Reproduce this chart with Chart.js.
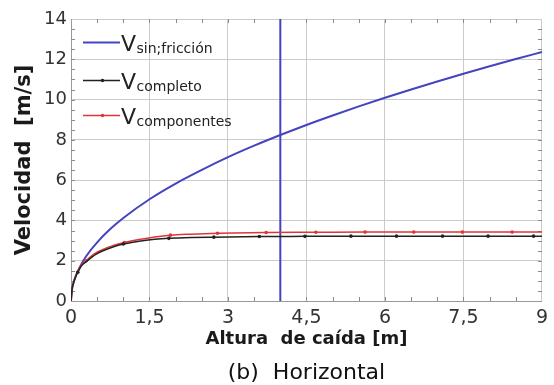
<!DOCTYPE html>
<html>
<head>
<meta charset="utf-8">
<script src="https://cdn.jsdelivr.net/npm/chart.js@4/dist/chart.umd.min.js"></script>
<style>
  html, body { margin: 0; padding: 0; background: #ffffff; }
  #wrap { position: relative; width: 554px; height: 385px; }
</style>
</head>
<body>
<div id="wrap"><canvas id="c" width="554" height="385"></canvas></div>
<script>
// Fall height [m] and velocity [m/s] for the three models
const sinFriccionX = [0, 0.02, 0.05, 0.1, 0.2, 0.3, 0.5, 0.75, 1, 1.5, 2, 2.5, 3, 3.5, 4, 4.5, 5, 5.5, 6, 6.5, 7, 7.5, 8, 8.5, 9];
const sinFriccionY = [0, 0.58, 0.92, 1.30, 1.84, 2.26, 2.91, 3.57, 4.12, 5.05, 5.83, 6.51, 7.14, 7.71, 8.24, 8.74, 9.21, 9.66, 10.09, 10.50, 10.90, 11.28, 11.65, 12.01, 12.36];

const completoX = [0, 0.02, 0.05, 0.1, 0.13, 0.2, 0.3, 0.4, 0.5, 0.6, 0.8, 1.0, 1.3, 1.6, 1.87, 2.3, 2.73, 3.6, 4.47, 5.35, 6.22, 7.1, 7.97, 8.84, 9];
const completoY = [0, 0.58, 0.92, 1.28, 1.43, 1.75, 1.97, 2.18, 2.35, 2.48, 2.68, 2.83, 2.97, 3.06, 3.11, 3.15, 3.17, 3.20, 3.21, 3.22, 3.22, 3.22, 3.22, 3.22, 3.22];
const completoMarkX = [0.13, 1.0, 1.87, 2.73, 3.6, 4.47, 5.35, 6.22, 7.1, 7.97, 8.84];
const completoMarkY = [1.43, 2.83, 3.11, 3.17, 3.20, 3.21, 3.22, 3.22, 3.22, 3.22, 3.22];

const componentesX = [0, 0.02, 0.05, 0.1, 0.15, 0.2, 0.29, 0.4, 0.5, 0.6, 0.8, 1.02, 1.3, 1.6, 1.9, 2.3, 2.8, 3.73, 4.68, 5.62, 6.55, 7.48, 8.43, 9];
const componentesY = [0, 0.58, 0.92, 1.30, 1.58, 1.80, 2.00, 2.25, 2.42, 2.55, 2.75, 2.90, 3.05, 3.18, 3.27, 3.32, 3.36, 3.40, 3.41, 3.42, 3.42, 3.42, 3.42, 3.42];
const componentesMarkX = [0.29, 1.02, 1.9, 2.8, 3.73, 4.68, 5.62, 6.55, 7.48, 8.43];
const componentesMarkY = [2.00, 2.90, 3.27, 3.36, 3.40, 3.41, 3.42, 3.42, 3.42, 3.42];

// Reference height marked by the vertical line
const alturaRefX = [4.0, 4.0];
const alturaRefY = [0, 14];

const xTicks = [0, 1.5, 3, 4.5, 6, 7.5, 9];
const yTicks = [0, 2, 4, 6, 8, 10, 12, 14];

const seriesNames = ['sin;fricción', 'completo', 'componentes'];

const BLUE = '#4444c0';
const BLACK = '#222222';
const RED = '#e0343a';
const GRID = '#cbcbcb';

const pts = (xs, ys) => xs.map((x, i) => ({ x: x, y: ys[i] }));

Chart.defaults.font.family = "'DejaVu Sans', sans-serif";

// Small inner ticks every 0.5 on all four sides of the plot frame
const minorTicks = {
  id: 'minorTicks',
  beforeDatasetsDraw(chart) {
    const { ctx, chartArea: a, scales: { x, y } } = chart;
    ctx.save();
    ctx.strokeStyle = '#8a8a8a';
    ctx.lineWidth = 1;
    ctx.beginPath();
    for (let v = 0.5; v < 9; v += 0.5) {
      const px = Math.round(x.getPixelForValue(v)) + 0.5;
      ctx.moveTo(px, a.bottom); ctx.lineTo(px, a.bottom - 4);
      ctx.moveTo(px, a.top); ctx.lineTo(px, a.top + 4);
    }
    for (let v = 0.5; v < 14; v += 0.5) {
      const py = Math.round(y.getPixelForValue(v)) + 0.5;
      ctx.moveTo(a.left, py); ctx.lineTo(a.left + 4, py);
      ctx.moveTo(a.right, py); ctx.lineTo(a.right - 4, py);
    }
    ctx.stroke();
    ctx.restore();
  }
};

// Legend with subscripted labels, plus figure captions
const legendAndCaption = {
  id: 'legendAndCaption',
  afterDraw(chart) {
    const { ctx, chartArea: a } = chart;
    const entries = [
      { sub: seriesNames[0], color: BLUE, ly: 42.5, mark: false },
      { sub: seriesNames[1], color: BLACK, ly: 80.5, mark: true },
      { sub: seriesNames[2], color: RED, ly: 115.5, mark: true }
    ];
    ctx.save();
    entries.forEach(e => {
      ctx.strokeStyle = e.color;
      ctx.lineWidth = e.color === BLUE ? 2 : 1.5;
      ctx.beginPath();
      ctx.moveTo(83, e.ly); ctx.lineTo(120, e.ly);
      ctx.stroke();
      if (e.mark) {
        ctx.fillStyle = e.color;
        ctx.beginPath(); ctx.arc(102.5, e.ly, 1.8, 0, Math.PI * 2); ctx.fill();
      }
      ctx.fillStyle = '#222222';
      ctx.textBaseline = 'alphabetic';
      ctx.textAlign = 'left';
      ctx.font = "22px 'DejaVu Sans'";
      ctx.fillText('V', 121, e.ly + 8);
      const w = ctx.measureText('V').width;
      ctx.font = "14px 'DejaVu Sans'";
      ctx.fillText(e.sub, 121 + w + 0.5, e.ly + 10.5);
    });

    ctx.fillStyle = '#111111';
    ctx.textAlign = 'center';
    ctx.font = "22px 'DejaVu Sans'";
    ctx.fillText('(b)  Horizontal', (a.left + a.right) / 2, 379);
    ctx.fillText('(a)', 255, -3);
    ctx.restore();
  }
};

new Chart(document.getElementById('c'), {
  type: 'scatter',
  data: {
    datasets: [
      { data: pts(completoX, completoY), showLine: true, borderColor: BLACK, borderWidth: 1.5, pointRadius: 0, cubicInterpolationMode: 'monotone' },
      { data: pts(completoMarkX, completoMarkY), showLine: false, backgroundColor: BLACK, borderColor: BLACK, pointRadius: 1.8, borderWidth: 0 },
      { data: pts(componentesX, componentesY), showLine: true, borderColor: RED, borderWidth: 1.5, pointRadius: 0, cubicInterpolationMode: 'monotone' },
      { data: pts(componentesMarkX, componentesMarkY), showLine: false, backgroundColor: RED, borderColor: RED, pointRadius: 1.8, borderWidth: 0 },
      { data: pts(sinFriccionX, sinFriccionY), showLine: true, borderColor: BLUE, borderWidth: 2, pointRadius: 0, cubicInterpolationMode: 'monotone' },
      { data: pts(alturaRefX, alturaRefY), showLine: true, borderColor: BLUE, borderWidth: 2, pointRadius: 0 }
    ]
  },
  options: {
    responsive: false,
    animation: false,
    events: [],
    layout: { padding: { top: 19, right: 12, left: 0, bottom: 0 } },
    plugins: { legend: { display: false }, tooltip: { enabled: false }, title: { display: false } },
    scales: {
      x: {
        type: 'linear', min: 0, max: 9,
        afterBuildTicks: s => { s.ticks = xTicks.map(v => ({ value: v })); },
        afterFit: s => { s.height = 84; },
        grid: { color: GRID, lineWidth: 1, drawTicks: false },
        border: { display: true, color: '#9a9a9a' },
        ticks: {
          color: '#333333', padding: 6, maxRotation: 0,
          font: { size: 19 },
          callback: v => String(v).replace('.', ',')
        },
        title: {
          display: true, text: 'Altura  de caída [m]', color: '#1a1a1a',
          font: { size: 18, weight: 'bold' }, padding: { top: 0, bottom: 35 }
        }
      },
      y: {
        type: 'linear', min: 0, max: 14,
        afterBuildTicks: s => { s.ticks = yTicks.map(v => ({ value: v })); },
        afterFit: s => { s.width = 71; },
        grid: { color: GRID, lineWidth: 1, drawTicks: false },
        border: { display: true, color: '#9a9a9a' },
        ticks: { color: '#333333', padding: 4, font: { size: 18 } },
        title: {
          display: true, text: 'Velocidad  [m/s]', color: '#1a1a1a',
          font: { size: 21, weight: 'bold' }, padding: { top: 12, bottom: 0 }
        }
      }
    }
  },
  plugins: [minorTicks, legendAndCaption]
});
</script>
</body>
</html>
